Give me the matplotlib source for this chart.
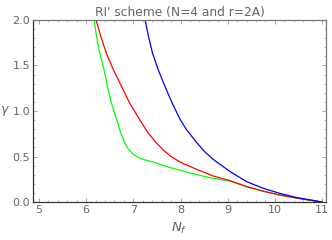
import numpy as np
import matplotlib
matplotlib.use('Agg')
import matplotlib.pyplot as plt
from matplotlib.ticker import MultipleLocator

# curves
nf_green = [6.17, 6.22, 6.29, 6.38, 6.45, 6.54, 6.65, 6.72, 6.80, 6.88, 7.00, 7.14, 7.30,
            7.42, 7.70, 7.99, 8.35, 8.70, 9.05, 9.40, 9.75, 10.11, 10.45, 10.82, 11.0]
g_green = [2.0, 1.82, 1.63, 1.45, 1.27, 1.08, 0.90, 0.78, 0.67, 0.59, 0.525, 0.48, 0.455,
           0.44, 0.39, 0.35, 0.30, 0.26, 0.23, 0.17, 0.12, 0.077, 0.045, 0.014, 0.0]

nf_red = [6.21, 6.31, 6.43, 6.58, 6.75, 6.93, 7.14, 7.30, 7.47, 7.64, 7.80, 7.99, 8.34,
          8.70, 9.05, 9.40, 9.75, 10.11, 10.45, 10.82, 11.0]
g_red = [2.0, 1.82, 1.63, 1.45, 1.27, 1.08, 0.90, 0.77, 0.66, 0.57, 0.50, 0.44, 0.36,
         0.285, 0.235, 0.17, 0.12, 0.077, 0.045, 0.014, 0.0]

nf_blue = [7.25, 7.32, 7.41, 7.53, 7.67, 7.83, 7.99, 8.12, 8.34, 8.50, 8.69, 9.05, 9.40,
           9.76, 10.11, 10.46, 10.80, 11.0]
g_blue = [2.0, 1.82, 1.63, 1.45, 1.27, 1.08, 0.91, 0.80, 0.655, 0.56, 0.47, 0.335, 0.225,
          0.15, 0.095, 0.05, 0.02, 0.0]

txt = '#666666'

fig = plt.figure(figsize=(3.32, 2.40), dpi=100)
ax = fig.add_axes([0.0994, 0.158, 0.8826, 0.759])

ax.plot(nf_green, g_green, color='#00ff00', lw=0.9)
ax.plot(nf_red, g_red, color='#ff0000', lw=0.9)
ax.plot(nf_blue, g_blue, color='#0000ff', lw=0.9)

ax.set_xlim(4.873, 11.085)
ax.set_ylim(0, 2.0)

ax.xaxis.set_major_locator(MultipleLocator(1))
ax.xaxis.set_minor_locator(MultipleLocator(0.2))
ax.yaxis.set_major_locator(MultipleLocator(0.5))
ax.yaxis.set_minor_locator(MultipleLocator(0.1))
ax.yaxis.set_major_formatter(plt.FormatStrFormatter('%.1f'))

ax.tick_params(which='both', direction='in', top=True, right=True,
               colors='#999999', labelcolor=txt, labelsize=8, pad=2)
ax.tick_params(which='major', length=3, width=0.6)
ax.tick_params(which='minor', length=1.5, width=0.5)

for side in ['left', 'bottom']:
    ax.spines[side].set_color('#333333')
    ax.spines[side].set_linewidth(0.9)
for side in ['right', 'top']:
    ax.spines[side].set_color('#777777')
    ax.spines[side].set_linewidth(0.9)

ax.set_title("RI' scheme (N=4 and r=2A)", fontsize=8.8, color=txt, pad=3)
ax.set_xlabel('$N_f$', fontsize=9.5, color=txt, labelpad=4)
ax.set_ylabel('$\\gamma$', fontsize=9, color=txt, rotation=0, ha='center', va='center')
ax.yaxis.set_label_coords(-0.095, 0.5)

plt.savefig('out.png', dpi=100)
